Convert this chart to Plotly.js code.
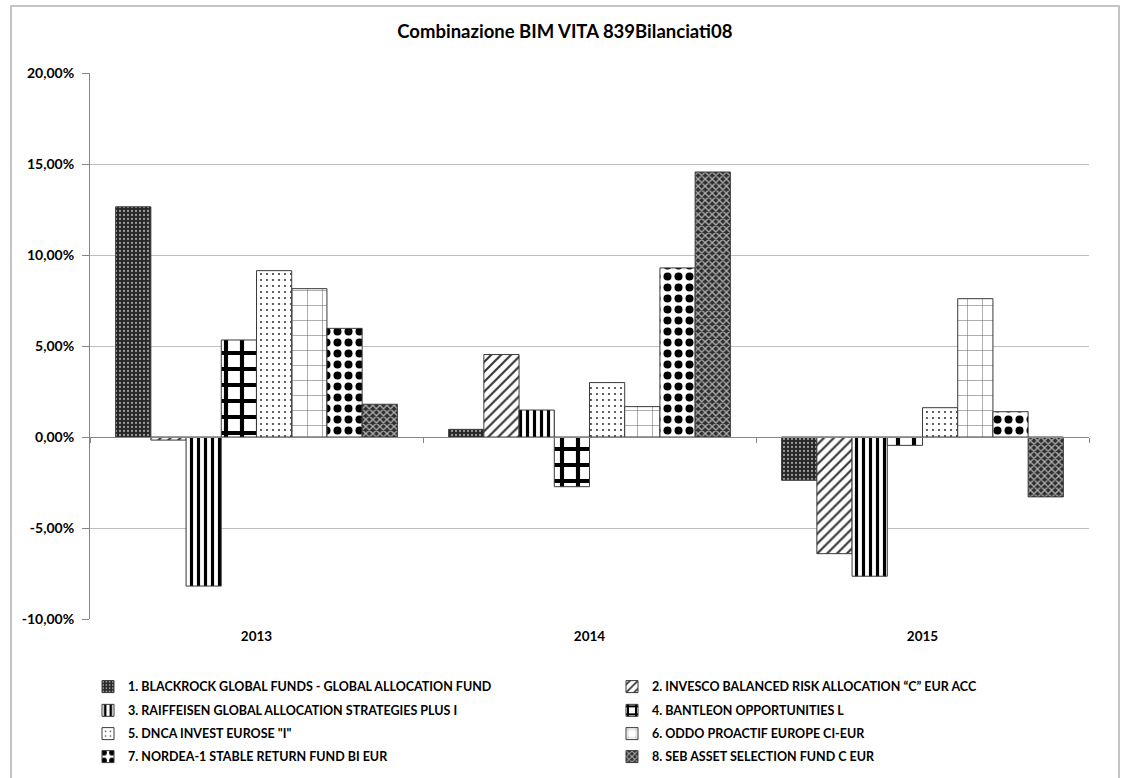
<!DOCTYPE html>
<html>
<head>
<meta charset="utf-8">
<script src="https://cdn.plot.ly/plotly-3.0.1.min.js"></script>
<style>
  html, body { margin: 0; padding: 0; background: #fff; overflow: hidden; }
  #chart { width: 1123px; height: 778px; }
  #frame { position: absolute; left: 10px; top: 5px; width: 1106px; height: 800px;
           border: 2px solid #c4c4c4; pointer-events: none; }
</style>
</head>
<body>
<div id="chart"></div>
<div id="frame"></div>
<script>
const categories = ['2013', '2014', '2015'];
const seriesNames = [
  '1. BLACKROCK GLOBAL FUNDS - GLOBAL ALLOCATION FUND',
  '2. INVESCO BALANCED RISK ALLOCATION \u201CC\u201D EUR ACC',
  '3. RAIFFEISEN GLOBAL ALLOCATION STRATEGIES PLUS I',
  '4. BANTLEON OPPORTUNITIES L',
  '5. DNCA INVEST EUROSE "I"',
  '6. ODDO PROACTIF EUROPE CI-EUR',
  '7. NORDEA-1 STABLE RETURN FUND BI EUR',
  '8. SEB ASSET SELECTION FUND C EUR'
];
const s1 = [12.65, 0.42, -2.38];
const s2 = [-0.17, 4.53, -6.41];
const s3 = [-8.19, 1.48, -7.65];
const s4 = [5.33, -2.73, -0.46];
const s5 = [9.14, 2.99, 1.61];
const s6 = [8.15, 1.67, 7.60];
const s7 = [5.97, 9.29, 1.39];
const s8 = [1.80, 14.56, -3.29];
const seriesValues = [s1, s2, s3, s4, s5, s6, s7, s8];
const yTicks = [-10, -5, 0, 5, 10, 15, 20];
const yTickText = yTicks.map(v => v.toFixed(2).replace('.', ',') + '%');

const patterns = [
  {shape: '.', bgcolor: '#262626', fgcolor: '#9c9c9c', size: 4, solidity: 0.25},
  {shape: '/', bgcolor: '#ffffff', fgcolor: '#333333', size: 7, solidity: 0.3},
  {shape: '|', bgcolor: '#ffffff', fgcolor: '#000000', size: 7, solidity: 0.45},
  {shape: '+', bgcolor: '#ffffff', fgcolor: '#000000', size: 16, solidity: 0.45},
  {shape: '.', bgcolor: '#ffffff', fgcolor: '#222222', size: 6, solidity: 0.08},
  {shape: '+', bgcolor: '#ffffff', fgcolor: '#666666', size: 15, solidity: 0.07},
  {shape: '.', bgcolor: '#ffffff', fgcolor: '#000000', size: 11, solidity: 0.42},
  {shape: 'x', bgcolor: '#2e2e2e', fgcolor: '#b0b0b0', size: 5, solidity: 0.45}
];

const FONT = 'Lato, "Open Sans", sans-serif';
const legendIds = ['legend', 'legend', 'legend2', 'legend2', 'legend3', 'legend3', 'legend4', 'legend4'];

const traces = seriesValues.map((vals, i) => ({
  type: 'bar',
  name: seriesNames[i],
  x: categories,
  y: vals,
  legend: legendIds[i],
  marker: {
    color: patterns[i].bgcolor,
    line: {color: '#3a3a3a', width: 1},
    pattern: Object.assign({fillmode: 'replace'}, patterns[i])
  },
  hoverinfo: 'skip'
}));

// dummy trace to draw the zero-line axis with boundary ticks
traces.push({
  type: 'scatter', mode: 'markers', x: categories, y: [null, null, null],
  xaxis: 'x2', yaxis: 'y', showlegend: false, hoverinfo: 'skip'
});

function legendAt(y) {
  return {
    orientation: 'h',
    x: -0.002, xanchor: 'left',
    y: y, yanchor: 'middle',
    entrywidth: 479, entrywidthmode: 'pixels',
    font: {family: FONT, size: 12.5, weight: 'bold', color: '#000'},
    traceorder: 'normal',
    bgcolor: 'rgba(0,0,0,0)'
  };
}

const layout = {
  width: 1123, height: 778,
  paper_bgcolor: '#ffffff', plot_bgcolor: '#ffffff',
  margin: {l: 90, r: 34, t: 73, b: 159, autoexpand: false},
  separators: ',.',
  font: {family: FONT, color: '#000000', size: 12},
  title: {
    text: 'Combinazione BIM VITA 839Bilanciati08',
    font: {family: FONT, size: 18.5, weight: 'bold', color: '#000'},
    x: 0.503, xref: 'container', xanchor: 'center',
    y: 0.959, yref: 'container', yanchor: 'middle'
  },
  barmode: 'group',
  bargap: 0.154,
  bargroupgap: 0,
  xaxis: {
    type: 'category',
    categoryorder: 'array', categoryarray: categories,
    range: [-0.5, 2.5],
    showline: false, showgrid: false, zeroline: false,
    ticks: '',
    tickfont: {family: FONT, size: 13.5, weight: 'bold'},
    ticklabelstandoff: 7
  },
  xaxis2: {
    type: 'category',
    categoryorder: 'array', categoryarray: categories,
    range: [-0.5, 2.5],
    overlaying: 'x', anchor: 'free', position: 1 / 3, side: 'bottom',
    showline: true, linecolor: '#868686', linewidth: 1,
    ticks: 'outside', ticklen: 5, tickcolor: '#868686', tickson: 'boundaries',
    showticklabels: false, showgrid: false, zeroline: false
  },
  yaxis: {
    range: [-10, 20],
    tickmode: 'array', tickvals: yTicks, ticktext: yTickText,
    showline: true, linecolor: '#868686', linewidth: 1,
    ticks: 'outside', ticklen: 7, tickcolor: '#868686',
    showgrid: true, gridcolor: '#bfbfbf', gridwidth: 1,
    zeroline: false,
    ticklabelstandoff: 5,
    tickfont: {family: FONT, size: 14, weight: 'bold'}
  },
  showlegend: true,
  legend: legendAt(-0.1245),
  legend2: legendAt(-0.1680),
  legend3: legendAt(-0.2106),
  legend4: legendAt(-0.2527)
};

Plotly.newPlot('chart', traces, layout, {displayModeBar: false, staticPlot: true});
</script>
</body>
</html>
